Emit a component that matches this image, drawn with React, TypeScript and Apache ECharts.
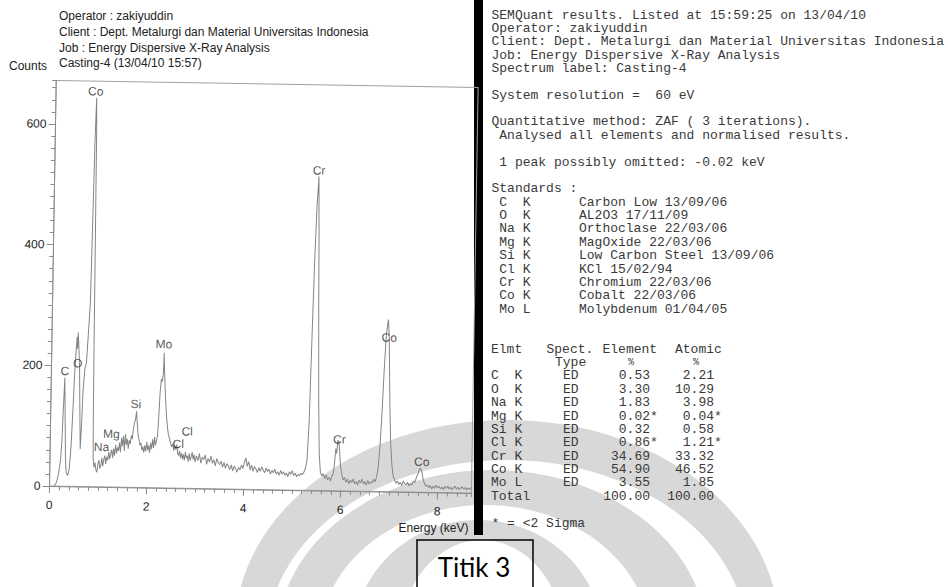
import React, { useEffect, useRef } from "react";
import * as echarts from "echarts";

// ---------- spectrum data (energy keV, counts) ----------
const energies = [
  0.10, 0.13, 0.16, 0.19, 0.22, 0.24, 0.26, 0.28, 0.30, 0.32, 0.34, 0.37, 0.40, 0.43, 0.46, 0.48, 0.50, 0.52, 0.53, 0.54,
  0.56, 0.58, 0.60, 0.62, 0.64, 0.66, 0.69, 0.72, 0.75, 0.78, 0.80, 0.82, 0.84, 0.85, 0.86, 0.87, 0.88, 0.89, 0.91, 0.93,
  0.95, 0.97, 0.99, 1.01, 1.03, 1.05, 1.07, 1.09, 1.11, 1.13, 1.15, 1.17, 1.19, 1.21, 1.23, 1.25, 1.27, 1.29, 1.31, 1.33,
  1.35, 1.37, 1.39, 1.41, 1.43, 1.45, 1.47, 1.49, 1.51, 1.53, 1.55, 1.57, 1.59, 1.61, 1.63, 1.65, 1.67, 1.69, 1.71, 1.73,
  1.75, 1.77, 1.79, 1.81, 1.83, 1.85, 1.87, 1.89, 1.91, 1.93, 1.95, 1.97, 1.99, 2.01, 2.03, 2.05, 2.07, 2.09, 2.11, 2.13,
  2.15, 2.17, 2.19, 2.21, 2.23, 2.25, 2.27, 2.29, 2.31, 2.32, 2.33, 2.35, 2.37, 2.39, 2.41, 2.43, 2.45, 2.47, 2.49, 2.51,
  2.53, 2.55, 2.57, 2.59, 2.61, 2.63, 2.65, 2.67, 2.69, 2.71, 2.73, 2.75, 2.77, 2.79, 2.81, 2.83, 2.85, 2.87, 2.89, 2.91,
  2.93, 2.95, 2.97, 2.99, 3.02, 3.05, 3.08, 3.11, 3.14, 3.17, 3.20, 3.23, 3.26, 3.29, 3.32, 3.35, 3.38, 3.41, 3.44, 3.47,
  3.50, 3.53, 3.56, 3.59, 3.62, 3.65, 3.68, 3.71, 3.74, 3.77, 3.80, 3.83, 3.86, 3.89, 3.92, 3.95, 3.98, 4.01, 4.04, 4.07,
  4.10, 4.13, 4.16, 4.19, 4.22, 4.25, 4.28, 4.31, 4.34, 4.37, 4.40, 4.43, 4.46, 4.49, 4.52, 4.55, 4.58, 4.61, 4.64, 4.67,
  4.70, 4.73, 4.76, 4.79, 4.82, 4.85, 4.88, 4.91, 4.94, 4.97, 5.00, 5.03, 5.06, 5.09, 5.12, 5.15, 5.18, 5.21, 5.24, 5.27,
  5.30, 5.33, 5.36, 5.39, 5.42, 5.45, 5.47, 5.49, 5.52, 5.55, 5.58, 5.61, 5.64, 5.67, 5.70, 5.73, 5.76, 5.79, 5.82, 5.85,
  5.87, 5.89, 5.91, 5.93, 5.95, 5.97, 5.99, 6.02, 6.05, 6.08, 6.11, 6.14, 6.17, 6.20, 6.23, 6.26, 6.29, 6.32, 6.35, 6.38,
  6.41, 6.44, 6.47, 6.50, 6.53, 6.56, 6.59, 6.62, 6.65, 6.68, 6.71, 6.74, 6.77, 6.80, 6.83, 6.86, 6.89, 6.91, 6.93, 6.95,
  6.97, 6.99, 7.02, 7.05, 7.08, 7.11, 7.14, 7.17, 7.20, 7.23, 7.26, 7.29, 7.32, 7.35, 7.38, 7.41, 7.44, 7.47, 7.50, 7.53,
  7.56, 7.59, 7.62, 7.64, 7.67, 7.70, 7.73, 7.76, 7.79, 7.82, 7.85, 7.88, 7.91, 7.94, 7.97, 8.00, 8.03, 8.06, 8.09, 8.12,
  8.15, 8.18, 8.21, 8.24, 8.27, 8.30, 8.33, 8.36, 8.39, 8.42, 8.45, 8.48, 8.51, 8.54, 8.57, 8.60, 8.63, 8.66, 8.69,
];
const counts = [
  0, 4, 12, 25, 45, 75, 130, 180, 110, 45, 22, 18, 28, 65, 135, 185, 220, 248, 228, 255,
  230, 195, 125, 62, 105, 160, 196, 205, 254, 305, 430, 570, 644, 600, 430, 240, 110, 48, 32, 40,
  28, 24, 38, 44, 30, 36, 48, 34, 45, 52, 38, 50, 44, 58, 46, 55, 62, 48, 64, 52,
  70, 56, 66, 60, 74, 58, 82, 68, 85, 60, 88, 70, 80, 64, 78, 72, 86, 80, 95, 108,
  112, 126, 104, 86, 80, 70, 74, 62, 68, 58, 70, 60, 76, 62, 70, 58, 74, 64, 80, 66,
  84, 70, 78, 86, 120, 160, 180, 176, 190, 224, 200, 165, 140, 118, 102, 90, 84, 78, 72, 68,
  74, 62, 70, 64, 72, 58, 54, 62, 50, 58, 48, 56, 46, 60, 50, 54, 44, 58, 46, 52,
  60, 48, 56, 44, 54, 46, 58, 42, 52, 48, 56, 40, 50, 44, 54, 42, 48, 38, 50, 44,
  40, 46, 36, 44, 34, 42, 38, 32, 40, 30, 38, 34, 28, 36, 32, 40, 34, 44, 52, 38,
  46, 32, 40, 30, 38, 34, 28, 36, 30, 38, 32, 28, 36, 30, 34, 26, 32, 28, 34, 26,
  30, 24, 32, 26, 30, 24, 28, 22, 30, 26, 32, 24, 28, 22, 26, 24, 28, 26, 30, 36,
  50, 110, 250, 380, 470, 520, 430, 300, 150, 60, 30, 24, 28, 20, 26, 18, 22, 16, 24, 30,
  48, 70, 62, 84, 80, 66, 42, 28, 18, 22, 14, 20, 12, 18, 14, 20, 12, 16, 10, 18,
  14, 20, 12, 16, 10, 18, 12, 16, 14, 20, 16, 24, 40, 75, 130, 200, 255, 272, 285, 262,
  205, 142, 80, 45, 26, 20, 14, 18, 12, 16, 10, 18, 14, 12, 16, 10, 14, 12, 18, 16,
  24, 30, 38, 40, 34, 22, 14, 10, 12, 8, 11, 6, 10, 7, 12, 8, 10, 6, 9, 5,
  10, 7, 11, 6, 9, 5, 8, 11, 6, 9, 5, 8, 10, 6, 9, 5, 8, 6, 9,
];

// peak labels: element name, energy, counts at label centre
const peakNames = ["Co", "Cr", "C", "O", "Mo", "Si", "Mg", "Na", "Cl", "Cl", "Cr", "Co", "Co"];
const peakEnergies = [0.82, 5.45, 0.28, 0.54, 2.31, 1.755, 1.26, 1.06, 2.82, 2.64, 5.96, 6.955, 7.665];
const peakCounts = [655, 530, 191, 204, 238, 138, 88, 66, 94, 73, 85, 255, 50];

// axis ticks
const xMajorTicks = [0, 2, 4, 6, 8];
const yMajorTicks = [0, 200, 400, 600];

// header above the spectrum
const headerLines = [
  "Operator : zakiyuddin",
  "Client : Dept. Metalurgi dan Material Universitas Indonesia",
  "Job : Energy Dispersive X-Ray Analysis",
  "Casting-4 (13/04/10 15:57)",
];

// SEMQuant report (the printout, line by line; "" = blank line)
const reportLines = [
  "SEMQuant results. Listed at 15:59:25 on 13/04/10",
  "Operator: zakiyuddin",
  "Client: Dept. Metalurgi dan Material Universitas Indonesia",
  "Job: Energy Dispersive X-Ray Analysis",
  "Spectrum label: Casting-4",
  "",
  "System resolution =  60 eV",
  "",
  "Quantitative method: ZAF ( 3 iterations).",
  " Analysed all elements and normalised results.",
  "",
  " 1 peak possibly omitted: -0.02 keV",
  "",
  "Standards :",
];
const stdElements = [" C  K", " O  K", " Na K", " Mg K", " Si K", " Cl K", " Cr K", " Co K", " Mo L"];
const stdNames = [
  "Carbon Low 13/09/06",
  "AL2O3 17/11/09",
  "Orthoclase 22/03/06",
  "MagOxide 22/03/06",
  "Low Carbon Steel 13/09/06",
  "KCl 15/02/94",
  "Chromium 22/03/06",
  "Cobalt 22/03/06",
  "Molybdenum 01/04/05",
];
const tableHeader1 = ["Elmt", "Spect.", "Element", "Atomic"];
const tableHeader2 = ["Type", "%", "%"];
const tableElements = ["C  K", "O  K", "Na K", "Mg K", "Si K", "Cl K", "Cr K", "Co K", "Mo L"];
const tableType = ["ED", "ED", "ED", "ED", "ED", "ED", "ED", "ED", "ED"];
const elementPct = ["0.53", "3.30", "1.83", "0.02", "0.32", "0.86", "34.69", "54.90", "3.55"];
const atomicPct = ["2.21", "10.29", "3.98", "0.04", "0.58", "1.21", "33.32", "46.52", "1.85"];
const belowTwoSigma = [false, false, false, true, false, true, false, false, false];
const totalRow = ["Total", "100.00", "100.00"];
const footnote = "* = <2 Sigma";
const caption = "Titik 3";

const MONO = "'Liberation Mono', 'DejaVu Sans Mono', monospace";
const SANS = "'Liberation Sans', Arial, sans-serif";

function txt(text: string, x: number, y: number, font: string, fill: string, align = "left") {
  return {
    type: "text",
    x,
    y,
    z: 20,
    silent: true,
    style: {
      text,
      font,
      fill,
      textAlign: align,
      align,
      textVerticalAlign: "middle",
      verticalAlign: "middle",
    },
  };
}

export default function App() {
  const bgRef = useRef<HTMLDivElement>(null);
  const chartRef = useRef<HTMLDivElement>(null);

  useEffect(() => {
    if (!bgRef.current || !chartRef.current) return;
    const bg = echarts.init(bgRef.current, null, { renderer: "svg" });
    const chart = echarts.init(chartRef.current, null, { renderer: "svg" });

    const GREY = "#d8d8d8";
    const WHITE = "#ffffff";
    const ink = "#3a3a3a";
    const monoFont = `13px ${MONO}`;
    const elements: any[] = [];

    // faint watermark (nested domes)
    const ell = (z: number, cx: number, cy: number, rx: number, ry: number, fill: string) => ({
      type: "ellipse",
      z,
      silent: true,
      shape: { cx, cy, rx, ry },
      style: { fill },
    });
    elements.push(ell(1, 507, 630, 272, 210, GREY));
    elements.push(ell(2, 507, 640, 240, 180, WHITE));
    elements.push(ell(3, 492, 640, 215, 170, GREY));
    elements.push(ell(4, 485, 640, 165, 135, WHITE));
    elements.push(ell(5, 478, 640, 125, 120, GREY));
    elements.push(ell(6, 482, 640, 82, 100, WHITE));

    // header over the spectrum
    const headerY = [16, 32, 47.5, 62.5];
    headerLines.forEach((l, i) => elements.push(txt(l, 59, headerY[i], `12px ${SANS}`, "#222")));
    elements.push(txt("Counts", 47, 66, `12px ${SANS}`, "#222", "right"));
    elements.push(txt("Energy (keV)", 433.5, 528, `12px ${SANS}`, "#222", "center"));

    // black scan bar
    elements.push({ type: "rect", z: 15, silent: true, shape: { x: 474, y: 0, width: 9, height: 535 }, style: { fill: "#000" } });

    // report text: uniform printout line pitch
    const y0 = 15;
    const pitch = 13.37;
    const lineY = (i: number) => y0 + pitch * i;
    const left = 491.5;
    reportLines.forEach((l, i) => {
      if (l) elements.push(txt(l, left, lineY(i), monoFont, ink));
    });
    const stdStart = reportLines.length; // 14
    stdElements.forEach((l, i) => {
      const y = lineY(stdStart + i);
      elements.push(txt(l, left, y, monoFont, ink));
      elements.push(txt(stdNames[i], 579, y, monoFont, ink));
    });
    const tableStart = stdStart + stdElements.length + 2; // 25
    const hy = lineY(tableStart);
    elements.push(txt(tableHeader1[0], 491, hy, monoFont, ink));
    elements.push(txt(tableHeader1[1], 546.5, hy, monoFont, ink));
    elements.push(txt(tableHeader1[2], 602.5, hy, monoFont, ink));
    elements.push(txt(tableHeader1[3], 675, hy, monoFont, ink));
    const hy2 = lineY(tableStart + 1);
    elements.push(txt(tableHeader2[0], 555, hy2, monoFont, ink));
    elements.push(txt(tableHeader2[1], 628, hy2, `10px ${MONO}`, ink));
    elements.push(txt(tableHeader2[2], 693, hy2, `10px ${MONO}`, ink));
    tableElements.forEach((el, i) => {
      const y = lineY(tableStart + 2 + i);
      elements.push(txt(el, 491, y, monoFont, ink));
      elements.push(txt(tableType[i], 563, y, monoFont, ink));
      elements.push(txt(elementPct[i], 650, y, monoFont, ink, "right"));
      elements.push(txt(atomicPct[i], 714, y, monoFont, ink, "right"));
      if (belowTwoSigma[i]) {
        elements.push(txt("*", 650, y, monoFont, ink));
        elements.push(txt("*", 714, y, monoFont, ink));
      }
    });
    const ty = lineY(tableStart + 2 + tableElements.length);
    elements.push(txt(totalRow[0], 491, ty, monoFont, ink));
    elements.push(txt(totalRow[1], 650, ty, monoFont, ink, "right"));
    elements.push(txt(totalRow[2], 714, ty, monoFont, ink, "right"));
    elements.push(txt(footnote, 491.5, lineY(tableStart + 4 + tableElements.length), monoFont, ink));

    // caption box
    elements.push({ type: "rect", z: 20, silent: true, shape: { x: 417, y: 540, width: 116, height: 70 }, style: { fill: "none", stroke: "#000", lineWidth: 1.5 } });
    elements.push(txt(caption, 474, 567, `26px Lato, 'Open Sans', sans-serif`, "#000", "center"));

    bg.setOption({ animation: false, graphic: { elements } });

    // ---------- spectrum chart (scanned slightly rotated, see container transform) ----------
    const axisColor = "#8c8c8c";
    const xMax = 8.7;
    const yMax = 672;
    chart.setOption({
      animation: false,
      grid: {
        left: 49.5,
        top: 486 - yMax * 0.6035,
        width: xMax * 48.5,
        height: yMax * 0.6035,
        show: true,
        borderColor: "#a0a0a0",
        borderWidth: 1,
        backgroundColor: "transparent",
      },
      xAxis: [
        {
          type: "value",
          min: 0,
          max: xMax,
          interval: xMajorTicks[1] - xMajorTicks[0],
          position: "bottom",
          axisLine: { show: true, lineStyle: { color: axisColor, width: 1 } },
          axisTick: { show: true, length: 7, lineStyle: { color: axisColor } },
          axisLabel: {
            show: true,
            margin: 13,
            fontSize: 12,
            color: "#222",
            fontFamily: SANS,
            showMaxLabel: false,
            formatter: (v: number) => (xMajorTicks.includes(Math.round(v * 100) / 100) ? String(Math.round(v)) : ""),
          },
          splitLine: { show: false },
        },
        {
          type: "value",
          min: 0,
          max: xMax,
          interval: 0.2,
          position: "bottom",
          axisLine: { show: false },
          axisTick: { show: true, length: 4, lineStyle: { color: axisColor } },
          axisLabel: { show: false },
          splitLine: { show: false },
        },
      ],
      yAxis: [
        {
          type: "value",
          min: 0,
          max: yMax,
          interval: yMajorTicks[1] - yMajorTicks[0],
          position: "left",
          axisLine: { show: true, lineStyle: { color: axisColor, width: 1 } },
          axisTick: { show: true, length: 7, lineStyle: { color: axisColor } },
          axisLabel: {
            show: true,
            margin: 9,
            fontSize: 12,
            color: "#222",
            fontFamily: SANS,
            showMaxLabel: false,
          },
          splitLine: { show: false },
        },
        {
          type: "value",
          min: 0,
          max: yMax,
          interval: 20,
          position: "left",
          axisLine: { show: false },
          axisTick: { show: true, length: 4, lineStyle: { color: axisColor } },
          axisLabel: { show: false },
          splitLine: { show: false },
        },
      ],
      series: [
        {
          type: "line",
          xAxisIndex: 0,
          yAxisIndex: 0,
          data: energies.map((e, i) => [e, counts[i]]),
          showSymbol: false,
          symbol: "none",
          silent: true,
          lineStyle: { color: "#858585", width: 1 },
        },
        {
          type: "scatter",
          xAxisIndex: 0,
          yAxisIndex: 0,
          symbolSize: 0,
          silent: true,
          itemStyle: { color: "transparent" },
          data: peakNames.map((n, i) => ({ name: n, value: [peakEnergies[i], peakCounts[i]] })),
          label: {
            show: true,
            position: "inside",
            formatter: "{b}",
            fontSize: 12,
            color: "#2a2a2a",
            fontFamily: SANS,
          },
          z: 5,
        },
      ],
    });

    return () => {
      bg.dispose();
      chart.dispose();
    };
  }, []);

  return (
    <div
      style={{
        position: "fixed",
        left: 0,
        top: 0,
        width: 948,
        height: 587,
        background: "#ffffff",
        overflow: "hidden",
      }}
    >
      <div ref={bgRef} style={{ position: "absolute", left: 0, top: 0, width: 948, height: 587 }} />
      <div
        ref={chartRef}
        style={{
          position: "absolute",
          left: 0,
          top: 0,
          width: 500,
          height: 587,
          transform: "rotate(0.95deg)",
          transformOrigin: "49.5px 486px",
        }}
      />
    </div>
  );
}
